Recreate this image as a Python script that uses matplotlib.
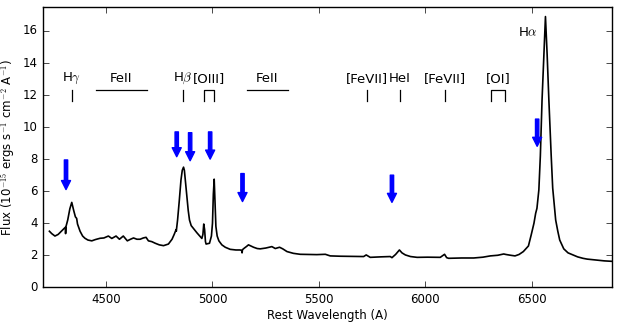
import matplotlib
matplotlib.use('Agg')
import matplotlib.pyplot as plt

plt.style.use('classic')

# spectrum (rest wavelength in A, flux in 1e-15 erg/s/cm2/A)
wave = [4234, 4245, 4260, 4275, 4290, 4305, 4309, 4310, 4312, 4320, 4330, 4339,
        4348, 4356, 4362, 4366, 4378, 4390, 4401, 4415, 4433, 4450, 4472, 4490,
        4511, 4527, 4547, 4563, 4581, 4600, 4615, 4629, 4645, 4660, 4675, 4688,
        4699, 4715, 4731, 4750, 4770, 4793, 4810, 4820, 4829, 4830, 4832, 4836,
        4844, 4852, 4858, 4864, 4868, 4873, 4880, 4886, 4892, 4900, 4915, 4927,
        4940, 4950, 4955, 4959, 4963, 4967, 4970, 4986, 4995, 5000, 5004, 5008,
        5012, 5016, 5022, 5030, 5044, 5060, 5083, 5110, 5130, 5137, 5139, 5141,
        5149, 5160, 5169, 5180, 5193, 5210, 5224, 5250, 5265, 5279, 5295, 5315,
        5330, 5350, 5380, 5412, 5450, 5490, 5530, 5553, 5600, 5650, 5710, 5722,
        5741, 5790, 5835, 5843, 5860, 5878, 5890, 5906, 5930, 5961, 6010, 6070,
        6090, 6100, 6109, 6170, 6227, 6270, 6305, 6340, 6368, 6378, 6400, 6421,
        6440, 6460, 6484, 6497, 6510, 6518, 6524, 6533, 6540, 6548, 6556, 6564,
        6572, 6580, 6591, 6598, 6612, 6622, 6631, 6650, 6670, 6693, 6715, 6740,
        6760, 6803, 6840, 6878]
flux = [3.5, 3.35, 3.2, 3.3, 3.5, 3.7, 3.75, 3.35, 3.8, 4.2, 4.9, 5.3,
        4.8, 4.4, 4.3, 3.95, 3.5, 3.2, 3.06, 2.95, 2.9, 2.98, 3.06, 3.08,
        3.2, 3.05, 3.2, 3.0, 3.2, 2.9, 3.0, 3.08, 3.0, 3.0, 3.08, 3.12,
        2.9, 2.85, 2.75, 2.65, 2.6, 2.7, 3.0, 3.3, 3.6, 3.5, 3.75, 4.2,
        5.4, 6.7, 7.3, 7.5, 7.3, 6.6, 5.66, 4.8, 4.2, 3.85, 3.6, 3.4,
        3.2, 3.05, 3.3, 3.95, 3.6, 2.85, 2.7, 2.75, 3.2, 4.0, 5.8, 6.75,
        5.2, 3.8, 3.2, 2.9, 2.65, 2.5, 2.37, 2.33, 2.33, 2.3, 2.15, 2.35,
        2.44, 2.55, 2.65, 2.58, 2.5, 2.42, 2.4, 2.45, 2.5, 2.54, 2.42, 2.5,
        2.4, 2.23, 2.12, 2.06, 2.05, 2.04, 2.06, 1.96, 1.94, 1.93, 1.92, 2.02,
        1.87, 1.9, 1.92, 1.85, 2.05, 2.33, 2.15, 2.02, 1.92, 1.87, 1.88, 1.87,
        2.06, 1.85, 1.81, 1.83, 1.83, 1.88, 1.96, 2.0, 2.08, 2.05, 2.0, 1.96,
        2.05, 2.23, 2.58, 3.27, 4.0, 4.62, 4.93, 6.08, 8.2, 11.7, 14.3, 16.9,
        14.5, 11.7, 8.2, 6.2, 4.2, 3.5, 2.95, 2.4, 2.15, 2.02, 1.9, 1.81,
        1.76, 1.7, 1.65, 1.62]

# line identifications
line_names = ['H$\\gamma$', 'FeII', 'H$\\beta$', '[OIII]', 'FeII',
              '[FeVII]', 'HeI', '[FeVII]', '[OI]']
line_lo = [4340, 4452, 4861, 4961, 5162, 5726, 5880, 6094, 6309]
line_hi = [4340, 4692, 4861, 5008, 5353, 5726, 5880, 6094, 6373]

# blue arrows: wavelength, arrow top, arrow tip
arrow_x = [4312, 4832, 4895, 4989, 5141, 5843, 6525]
arrow_top = [7.95, 9.7, 9.65, 9.7, 7.1, 7.0, 10.5]
arrow_tip = [6.1, 8.15, 7.9, 8.0, 5.35, 5.3, 8.8]

fig = plt.figure(figsize=(6.19, 3.26), dpi=100, facecolor='white')
ax = fig.add_axes([0.0695, 0.1187, 0.919, 0.86])

ax.plot(wave, flux, color='black', lw=1.2)

for name, lo, hi in zip(line_names, line_lo, line_hi):
  mid = 0.5 * (lo + hi)
  if name == 'FeII':
    ax.plot([lo, hi], [12.33, 12.33], color='black', lw=0.9)
  elif lo == hi:
    ax.plot([lo, lo], [11.6, 12.33], color='black', lw=0.9)
  else:
    ax.plot([lo, lo, hi, hi], [11.6, 12.33, 12.33, 11.6], color='black', lw=0.9)
  ax.text(mid, 13.06, name, ha='center', va='center', fontsize=9.5)

ax.text(6483, 15.9, 'H$\\alpha$', ha='center', va='center', fontsize=9.5)

for x, top, tip in zip(arrow_x, arrow_top, arrow_tip):
  ax.annotate('', xy=(x, tip), xytext=(x, top),
              arrowprops=dict(facecolor='blue', edgecolor='blue',
                              width=2.4, headwidth=6.5, headlength=6.5, shrink=0))

ax.set_xlim(4204, 6876)
ax.set_ylim(0, 17.5)
ax.set_xticks([4500, 5000, 5500, 6000, 6500])
ax.set_yticks(range(0, 17, 2))
ax.tick_params(labelsize=8.5, direction='in', length=4)
ax.set_xlabel('Rest Wavelength (A)', fontsize=8.5, labelpad=2)
ax.set_ylabel('Flux (10$^{-15}$ ergs s$^{-1}$ cm$^{-2}$ A$^{-1}$)', fontsize=8.5, labelpad=3)

fig.savefig('out.png', dpi=100, facecolor='white')
